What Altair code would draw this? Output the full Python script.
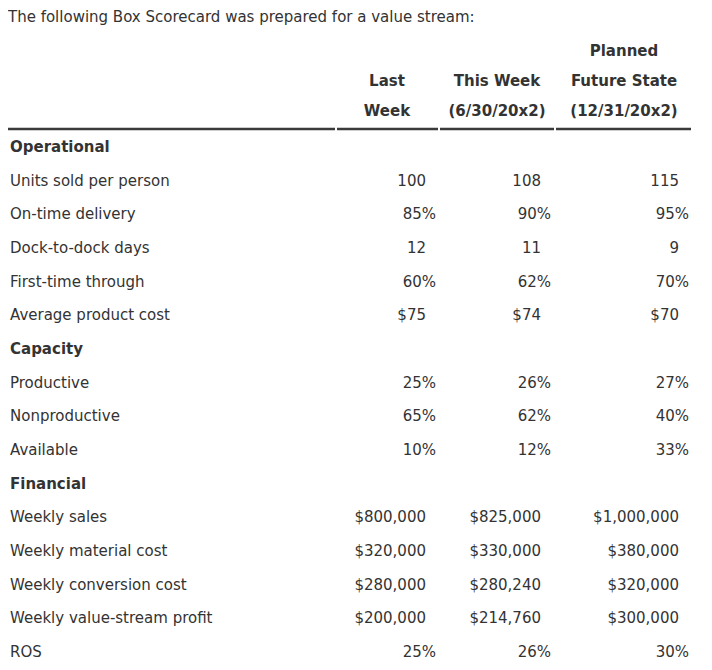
import altair as alt
import pandas as pd

# ---- data ----
title_text = "The following Box Scorecard was prepared for a value stream:"
header_line1 = ["", "", "Planned"]
header_line2 = ["Last", "This Week", "Future State"]
header_line3 = ["Week", "(6/30/20x2)", "(12/31/20x2)"]

row_labels = [
    "Operational", "Units sold per person", "On-time delivery", "Dock-to-dock days",
    "First-time through", "Average product cost",
    "Capacity", "Productive", "Nonproductive", "Available",
    "Financial", "Weekly sales", "Weekly material cost", "Weekly conversion cost",
    "Weekly value-stream profit", "ROS",
]
is_section = [True, False, False, False, False, False,
              True, False, False, False,
              True, False, False, False, False, False]
last_week = ["", "100", "85%", "12", "60%", "$75",
             "", "25%", "65%", "10%",
             "", "$800,000", "$320,000", "$280,000", "$200,000", "25%"]
this_week = ["", "108", "90%", "11", "62%", "$74",
             "", "26%", "62%", "12%",
             "", "$825,000", "$330,000", "$280,240", "$214,760", "26%"]
future_state = ["", "115", "95%", "9", "70%", "$70",
                "", "27%", "40%", "33%",
                "", "$1,000,000", "$380,000", "$320,000", "$300,000", "30%"]

# ---- layout (page pixel coordinates) ----
M = 8
X_END, Y_END = 704, 662
FONT = "DejaVu Sans"
FS = 15
TXT = "#333333"
row_y0, row_y_last = 147, 652
row_step = (row_y_last - row_y0) / (len(row_labels) - 1)
col_right = [426, 541, 679]
pct_pad = 10
head_center = [387, 497, 624]
head_y = [51, 81, 111]
label_x = 10
rule_y = 129
rule_segments = [(8, 335), (337, 438), (440, 554), (556, 691)]

xs = alt.Scale(domain=[M, X_END], range=[0, X_END - M], zero=False, nice=False)
ys = alt.Scale(domain=[M, Y_END], range=[0, Y_END - M], zero=False, nice=False)

def pos():
    return dict(x=alt.X("x:Q", scale=xs, axis=None), y=alt.Y("y:Q", scale=ys, axis=None))

# title
title_df = pd.DataFrame({"t": [title_text], "x": [M], "y": [17]})
title_layer = alt.Chart(title_df).mark_text(
    align="left", baseline="middle", font=FONT, fontSize=FS, color=TXT
).encode(text="t:N", **pos())

# headers
hrows = []
for lines, yy in zip([header_line1, header_line2, header_line3], head_y):
    for i, t in enumerate(lines):
        if t:
            hrows.append({"t": t, "x": head_center[i], "y": yy})
head_df = pd.DataFrame(hrows)
head_layer = alt.Chart(head_df).mark_text(
    align="center", baseline="middle", font=FONT, fontSize=FS, fontWeight="bold", color=TXT
).encode(text="t:N", **pos())

# rules
rule_df = pd.DataFrame({"x": [a for a, b in rule_segments], "x2": [b for a, b in rule_segments],
                        "y": [rule_y] * len(rule_segments)})
rule_layer = alt.Chart(rule_df).mark_rule(color="#3a3a3a", strokeWidth=2.5).encode(
    x2="x2:Q", **pos())

# row labels
lab_df = pd.DataFrame({
    "t": row_labels,
    "x": [label_x] * len(row_labels),
    "y": [row_y0 + row_step * i for i in range(len(row_labels))],
    "sec": is_section,
})
label_layer = alt.Chart(lab_df[~lab_df.sec]).mark_text(
    align="left", baseline="middle", font=FONT, fontSize=FS, color=TXT
).encode(text="t:N", **pos())
section_layer = alt.Chart(lab_df[lab_df.sec]).mark_text(
    align="left", baseline="middle", font=FONT, fontSize=FS, fontWeight="bold", color=TXT
).encode(text="t:N", **pos())

# values
vrows = []
for ci, col in enumerate([last_week, this_week, future_state]):
    for ri, v in enumerate(col):
        if v:
            vrows.append({"t": v,
                          "x": col_right[ci] + (pct_pad if v.endswith("%") else 0),
                          "y": row_y0 + row_step * ri})
val_df = pd.DataFrame(vrows)
value_layer = alt.Chart(val_df).mark_text(
    align="right", baseline="middle", font=FONT, fontSize=FS, color=TXT
).encode(text="t:N", **pos())

chart = alt.layer(
    title_layer, head_layer, rule_layer, label_layer, section_layer, value_layer
).properties(
    width=X_END - M, height=Y_END - M, padding=0,
    autosize=alt.AutoSizeParams(type="none"),
).configure_view(stroke=None)

chart.save("out.html", embed_options={"renderer": "svg", "actions": False})
